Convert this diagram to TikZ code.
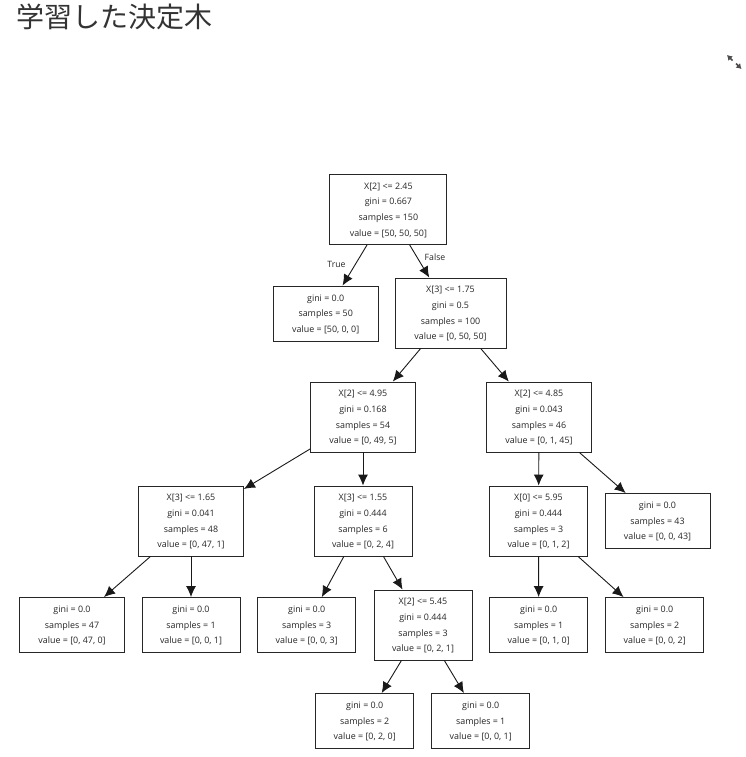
\documentclass[tikz,border=0pt]{standalone}
\usepackage{fontspec}
\setmainfont{Open Sans}
\newfontfamily\cjk{Noto Sans CJK JP}
\usetikzlibrary{arrows.meta}
\tikzset{
  tree/.style={x=1pt,y=-1pt},
  nd/.style={draw=black!85,line width=0.9pt,fill=white,inner sep=0pt,align=center,text=black!85,font=\fontsize{8.9}{15.7}\selectfont,anchor=center,text depth=0pt},
  split/.style={nd,minimum height=70pt},
  leaf/.style={nd,minimum height=55pt},
  w98/.style={minimum width=98pt},
  w105/.style={minimum width=105pt},
  edge/.style={draw=black!90,line width=0.9pt,-{Latex[length=11pt,width=10pt]}},
  lab/.style={font=\fontsize{8.7}{10}\selectfont,text=black!85,inner sep=0pt},
  icon/.style={draw=black!70,line width=1.5pt,-{Latex[length=5pt,width=6.5pt]}}
}
\begin{document}
\begin{tikzpicture}[tree]
\useasboundingbox (0,0) rectangle (746,757);
\node[anchor=west,inner sep=0pt,text=black!80,font=\fontsize{28}{30}\selectfont\cjk] (title) at (16,17) {学習した決定木};
\coordinate (ica0) at (732.5,60.5);
\coordinate (ica) at (727,55);
\coordinate (icb0) at (736,63.5);
\coordinate (icb) at (741.5,69);
\draw[icon] (ica0) -- (ica);
\draw[icon] (icb0) -- (icb);

\node[split,minimum width=117pt] (n0) at (388.4,209.5) {X[2] <= 2.45\\gini = 0.667\\samples = 150\\value = [50, 50, 50]};
\node[leaf,w105] (n1) at (325.7,313.5) {gini = 0.0\\samples = 50\\value = [50, 0, 0]};
\node[split,minimum width=111pt] (n2) at (450.5,313) {X[3] <= 1.75\\gini = 0.5\\samples = 100\\value = [0, 50, 50]};
\node[split,w105] (n3) at (363,417) {X[2] <= 4.95\\gini = 0.168\\samples = 54\\value = [0, 49, 5]};
\node[split,w105] (n4) at (539,417) {X[2] <= 4.85\\gini = 0.043\\samples = 46\\value = [0, 1, 45]};
\node[split,w105] (n5) at (191,521) {X[3] <= 1.65\\gini = 0.041\\samples = 48\\value = [0, 47, 1]};
\node[split,w98] (n6) at (363,521) {X[3] <= 1.55\\gini = 0.444\\samples = 6\\value = [0, 2, 4]};
\node[split,w98] (n7) at (538.5,521) {X[0] <= 5.95\\gini = 0.444\\samples = 3\\value = [0, 1, 2]};
\node[leaf,w105] (n8) at (657.5,521) {gini = 0.0\\samples = 43\\value = [0, 0, 43]};
\node[leaf,w105] (n9) at (72,625) {gini = 0.0\\samples = 47\\value = [0, 47, 0]};
\node[leaf,w98] (n10) at (191,625) {gini = 0.0\\samples = 1\\value = [0, 0, 1]};
\node[leaf,w98] (n11) at (306.7,625) {gini = 0.0\\samples = 3\\value = [0, 0, 3]};
\node[split,w98] (n12) at (423,625) {X[2] <= 5.45\\gini = 0.444\\samples = 3\\value = [0, 2, 1]};
\node[leaf,w98] (n13) at (538.7,625) {gini = 0.0\\samples = 1\\value = [0, 1, 0]};
\node[leaf,w98] (n14) at (654.7,625) {gini = 0.0\\samples = 2\\value = [0, 0, 2]};
\node[leaf,w98] (n15) at (364.7,721) {gini = 0.0\\samples = 2\\value = [0, 2, 0]};
\node[leaf,w98] (n16) at (480.7,721) {gini = 0.0\\samples = 1\\value = [0, 0, 1]};

\foreach \a/\b in {n0/n1,n0/n2,n2/n3,n2/n4,n3/n5,n3/n6,n4/n7,n4/n8,n5/n9,n5/n10,n6/n11,n6/n12,n7/n13,n7/n14,n12/n15,n12/n16}
  \draw[edge] (\a) -- (\b);

\node[lab] (t) at (336.5,264) {True};
\node[lab] (f) at (435,257) {False};
\end{tikzpicture}
\end{document}
